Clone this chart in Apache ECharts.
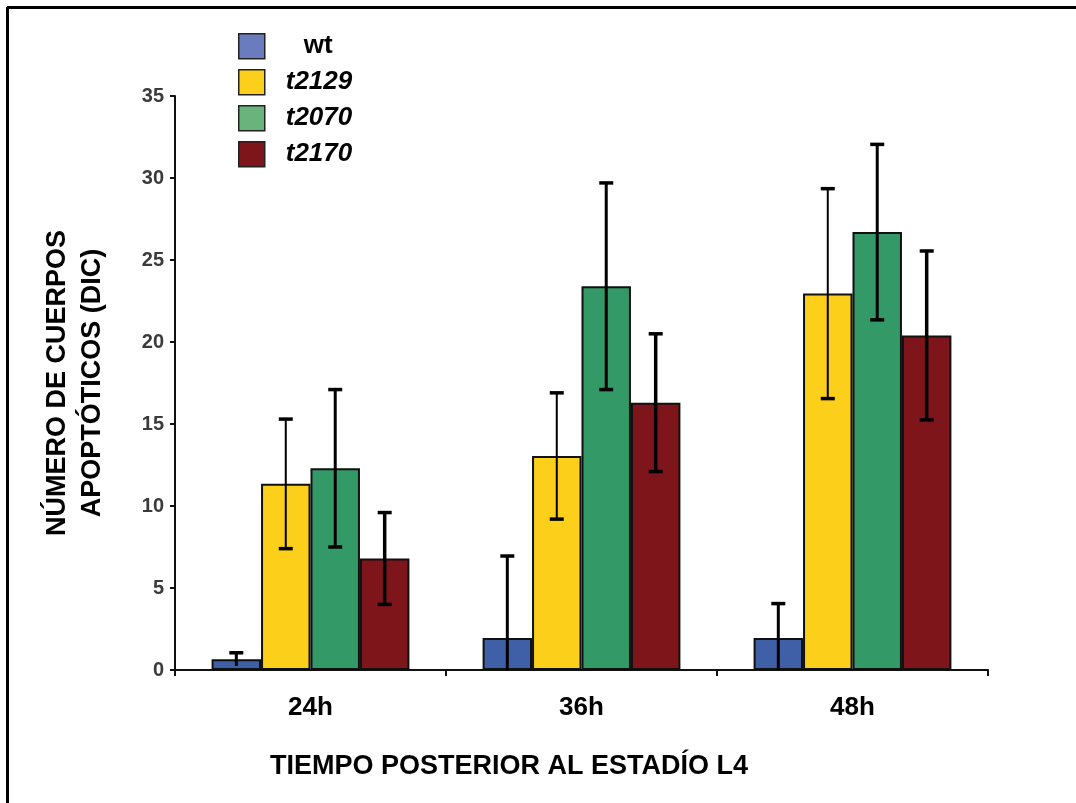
<!DOCTYPE html>
<html>
<head>
<meta charset="utf-8">
<script src="https://cdn.jsdelivr.net/npm/echarts@6/dist/echarts.min.js"></script>
<style>
html,body{margin:0;padding:0;background:#fff;}
#chart{width:1076px;height:803px;}
</style>
</head>
<body>
<div id="chart"></div>
<script>
const categories = ['24h', '36h', '48h'];
const seriesNames = ['wt', 't2129', 't2070', 't2170'];
const wtMean = [0.65, 1.95, 1.95];
const wtErr = [0.4, 5.0, 2.1];
const t2129Mean = [11.35, 13.05, 22.95];
const t2129Err = [3.95, 3.85, 6.4];
const t2070Mean = [12.3, 23.4, 26.7];
const t2070Err = [4.8, 6.3, 5.35];
const t2170Mean = [6.8, 16.3, 20.4];
const t2170Err = [2.8, 4.2, 5.15];
const yMin = 0, yMax = 35, yStep = 5;
const xTitle = 'TIEMPO POSTERIOR AL ESTADÍO L4';
const yTitle = 'NÚMERO DE CUERPOS\nAPOPTÓTICOS (DIC)';

const means = [wtMean, t2129Mean, t2070Mean, t2170Mean];
const errs = [wtErr, t2129Err, t2070Err, t2170Err];
const barColors = ['#3f5fa6', '#fccf1b', '#339966', '#7d151a'];
const legendColors = ['#6a7cbd', '#fccf1b', '#68b47c', '#7d151a'];
const errWidths = [3, 2, 3, 3.5];
const catGap = 0.27;
const FONT = '"Liberation Sans", Arial, sans-serif';

const chart = echarts.init(document.getElementById('chart'));

const series = [];
seriesNames.forEach((name, i) => {
  series.push({
    name: name,
    type: 'bar',
    data: means[i],
    barGap: '0%',
    barCategoryGap: (catGap * 100) + '%',
    itemStyle: { color: barColors[i], borderColor: '#111', borderWidth: 2 },
    z: 2
  });
});
seriesNames.forEach((name, i) => {
  series.push({
    name: 'err-' + name,
    type: 'custom',
    z: 5,
    data: categories.map((c, k) => [k, means[i][k], errs[i][k]]),
    renderItem: function (params, api) {
      const k = api.value(0), m = api.value(1), e = api.value(2);
      const band = api.size([1, 0])[0];
      const bw = band * (1 - catGap) / 4;
      const cx = api.coord([k, 0])[0] + (i - 1.5) * bw;
      const lowV = Math.max(0, m - e);
      const top = api.coord([k, m + e])[1];
      const bot = api.coord([k, lowV])[1];
      const style = { stroke: '#000', lineWidth: errWidths[i] };
      const capStyle = { stroke: '#000', lineWidth: 3.5 };
      const children = [
        { type: 'line', shape: { x1: cx, y1: top, x2: cx, y2: bot }, style: style },
        { type: 'line', shape: { x1: cx - 7, y1: top, x2: cx + 7, y2: top }, style: capStyle }
      ];
      if (m - e > 0.5) {
        children.push({ type: 'line', shape: { x1: cx - 7, y1: bot, x2: cx + 7, y2: bot }, style: capStyle });
      }
      return { type: 'group', children: children };
    }
  });
});

const option = {
  backgroundColor: '#fff',
  animation: false,
  textStyle: { fontFamily: FONT },
  grid: { left: 175, right: 88, top: 96, bottom: 133, containLabel: false },
  legend: {
    orient: 'vertical',
    left: 233,
    top: 28,
    itemWidth: 26,
    itemHeight: 25,
    itemGap: 9.5,
    icon: 'rect',
    data: seriesNames.map((n, i) => ({
      name: n,
      itemStyle: { color: legendColors[i], borderColor: '#222', borderWidth: 1.5 }
    })),
    formatter: function (name) {
      return name === 'wt' ? '{n|' + name + '}' : '{i|' + name + '}';
    },
    textStyle: {
      rich: {
        n: { fontFamily: FONT, fontSize: 26, fontWeight: 'bold', color: '#000', padding: [0, 0, 0, 34], lineHeight: 25 },
        i: { fontFamily: FONT, fontSize: 26, fontWeight: 'bold', fontStyle: 'italic', color: '#000', padding: [0, 0, 0, 16], lineHeight: 25 }
      }
    }
  },
  xAxis: {
    type: 'category',
    data: categories,
    axisLine: { lineStyle: { color: '#111', width: 2 } },
    axisTick: { show: true, length: 6, lineStyle: { color: '#111', width: 2 } },
    axisLabel: { fontFamily: FONT, fontSize: 26, fontWeight: 'bold', color: '#000', margin: 25 }
  },
  yAxis: {
    type: 'value',
    min: yMin, max: yMax, interval: yStep,
    name: yTitle,
    nameLocation: 'middle',
    nameRotate: 90,
    nameGap: 65,
    nameTextStyle: { fontFamily: FONT, fontSize: 27, fontWeight: 'bold', color: '#000', lineHeight: 35 },
    splitLine: { show: false },
    axisLine: { show: true, lineStyle: { color: '#111', width: 2 } },
    axisTick: { show: true, length: 5, lineStyle: { color: '#111', width: 2 } },
    axisLabel: { fontFamily: FONT, fontSize: 20, fontWeight: 'bold', color: '#3a3a3a', margin: 11 }
  },
  graphic: [
    { type: 'line', shape: { x1: 7, y1: 7.5, x2: 1076, y2: 7.5 }, style: { stroke: '#000', lineWidth: 3 } },
    { type: 'line', shape: { x1: 7.5, y1: 7, x2: 7.5, y2: 803 }, style: { stroke: '#000', lineWidth: 3 } },
    {
      type: 'text', left: 270, top: 753,
      style: { text: xTitle, font: 'bold 27px ' + FONT, fill: '#000' }
    }
  ],
  series: series
};
chart.setOption(option);
</script>
</body>
</html>
